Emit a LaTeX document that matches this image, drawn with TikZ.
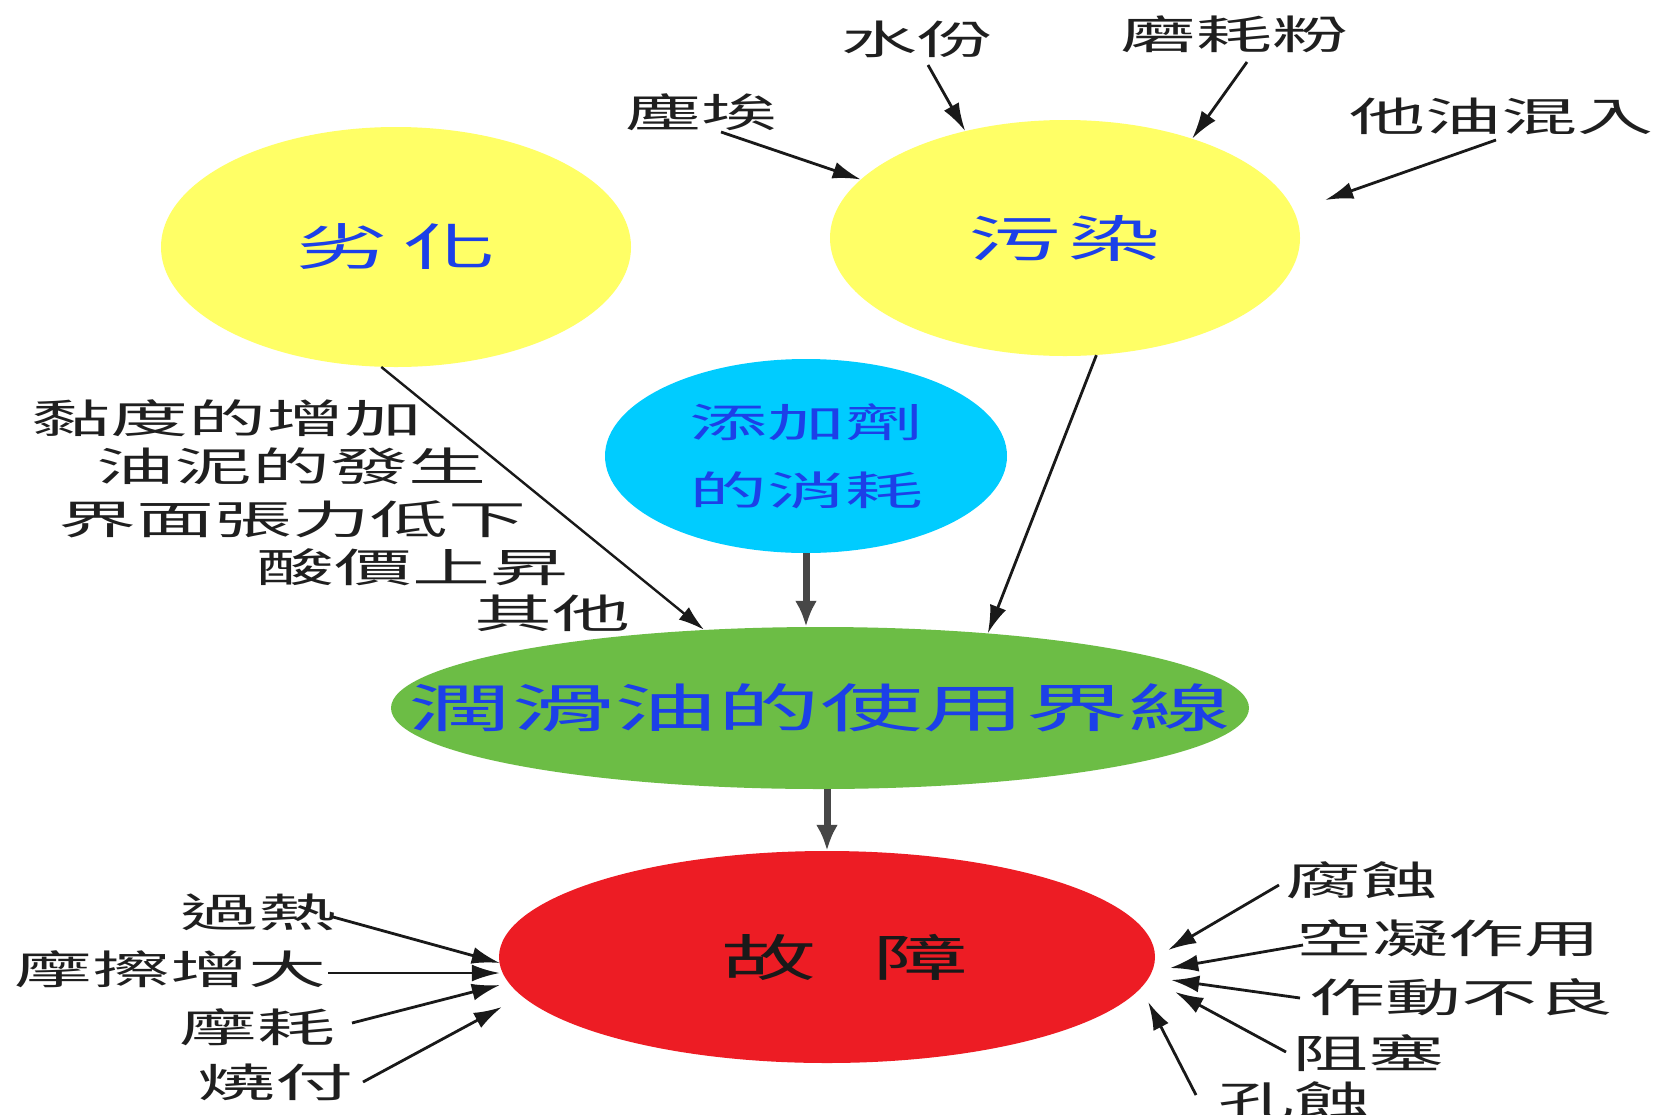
\documentclass[tikz,border=0pt]{standalone}
\usepackage{fontspec}
\usepackage{graphicx}
\newfontfamily\cjk{Noto Sans CJK TC}
\usetikzlibrary{shapes.geometric,arrows.meta}
\definecolor{yel}{RGB}{255,255,102}
\definecolor{cyn}{RGB}{0,204,255}
\definecolor{grn}{RGB}{108,189,69}
\definecolor{rd}{RGB}{237,28,36}
\definecolor{tblue}{RGB}{28,64,232}
\newcommand\stx[2][1.9]{\scalebox{#1}[1]{#2}}
\begin{document}
\begin{tikzpicture}[x=1pt,y=-1pt,
  blob/.style={ellipse,inner sep=0pt,align=center},
  big/.style={font=\cjk\fontsize{50}{50}\selectfont,text=tblue},
  lab/.style={inner sep=0pt,font=\cjk\fontsize{40}{40}\selectfont,text=black!88},
  arr/.style={line width=2.8pt,black!90,-{Latex[length=28pt,width=17pt]}},
  varr/.style={line width=7pt,black!72,-{Latex[length=26pt,width=22pt]}}]
\useasboundingbox (0,0) rectangle (1657,1114);
\fill[white] (0,0) rectangle (1657,1114);

% ellipses
\node[blob,big,fill=yel,minimum width=470pt,minimum height=240pt] (L) at (396,247)
  {\makebox[0pt]{\stx[1.85]{劣\hspace{8pt}化}}};
\node[blob,big,fill=yel,minimum width=470pt,minimum height=236pt] (P) at (1065,238)
  {\makebox[0pt]{\stx[1.85]{污\hspace{4pt}染}}};
\node[blob,fill=cyn,text=tblue,minimum width=402pt,minimum height=194pt,
  font=\cjk\fontsize{40}{68}\selectfont] (A) at (806,456)
  {\stx[1.95]{添加劑}\\\stx[1.95]{的消耗}};
\node[blob,fill=grn,text=tblue,minimum width=858pt,minimum height=162pt,
  font=\cjk\fontsize{52}{52}\selectfont] (G) at (820,708)
  {\makebox[0pt]{\stx[1.98]{潤滑油的使用界線}}};
\node[blob,fill=rd,text=black!90,minimum width=656pt,minimum height=212pt,
  font=\cjk\fontsize{50}{50}\selectfont] (R) at (827,957)
  {\makebox[0pt]{\hspace{36pt}\stx{故\hspace{30pt}障}}};

% top labels
\node[lab] (dust)  at (701,112) {\stx{塵埃}};
\node[lab] (water) at (917,39)  {\stx{水份}};
\node[lab] (wear)  at (1234,34) {\stx{磨耗粉}};
\node[lab] (oil)   at (1501,116) {\stx{他油混入}};

% left stack
\node[lab] (v1) at (227,418) {\stx[1.95]{黏度的增加}};
\node[lab] (v2) at (291,466) {\stx[1.95]{油泥的發生}};
\node[lab] (v3) at (292,519) {\stx[1.95]{界面張力低下}};
\node[lab] (v4) at (412,567) {\stx[1.95]{酸價上昇}};
\node[lab] (v5) at (552,613) {\stx[1.95]{其他}};

% bottom left
\node[lab] (f1) at (258,912)  {\stx[1.95]{過熱}};
\node[lab] (f2) at (170,969)  {\stx[1.95]{摩擦增大}};
\node[lab] (f3) at (257,1027) {\stx[1.95]{摩耗}};
\node[lab] (f4) at (275,1082) {\stx[1.95]{燒付}};

% bottom right
\node[lab] (g1) at (1361,880)  {\stx{腐蝕}};
\node[lab] (g2) at (1448,938)  {\stx{空凝作用}};
\node[lab] (g3) at (1461,997)  {\stx{作動不良}};
\node[lab] (g4) at (1368,1053) {\stx{阻塞}};
\node[lab] (g5) at (1294,1100) {\stx{孔蝕}};

% arrows into contamination
\draw[arr] ([shift={(20,20)}]dust.center) -- (P.164);
\draw[arr] ([shift={(11,26)}]water.center) -- (P.133);
\draw[arr] ([shift={(13,28)}]wear.center) -- (P.38);
\draw[arr] ([shift={(-5,24)}]oil.center) -- ([shift={(25,-38)}]P.east);

% into usage limit
\draw[line width=2.4pt,black!90,-{Latex[length=26pt,width=16pt]}] (L.263) -- (G.146);
\draw[varr] (A.south) -- (A.south |- G.north);
\draw[arr] (P.285) -- (G.24);
\draw[varr] (R.north |- G.south) -- (R.north);

% failure causes left
\draw[arr] ([shift={(75,5)}]f1.center) -- ([shift={(1,6)}]R.west);
\draw[arr] ([shift={(158,4)}]f2.center) -- ([shift={(1,16)}]R.west);
\draw[arr] ([shift={(95,-4)}]f3.center) -- ([shift={(1,28)}]R.west);
\draw[arr] ([shift={(88,0)}]f4.center) -- ([shift={(3,50)}]R.west);

% failure causes right
\draw[arr] ([shift={(-82,5)}]g1.center) -- ([shift={(13,-7)}]R.east);
\draw[arr] ([shift={(-145,7)}]g2.center) -- ([shift={(15,11)}]R.east);
\draw[arr] ([shift={(-161,1)}]g3.center) -- ([shift={(16,23)}]R.east);
\draw[arr] ([shift={(-82,-1)}]g4.center) -- ([shift={(20,35)}]R.east);
\draw[arr] ([shift={(-98,-5)}]g5.center) -- ([shift={(-7,45)}]R.east);
\end{tikzpicture}
\end{document}
